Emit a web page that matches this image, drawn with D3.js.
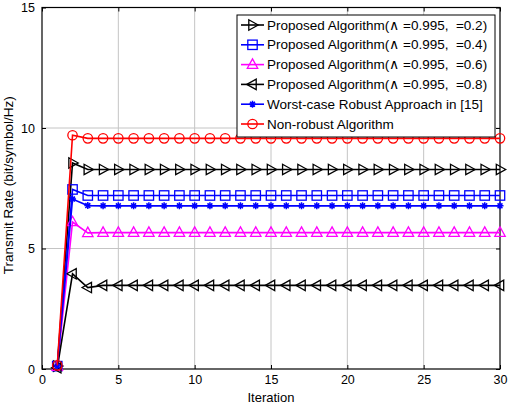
<!DOCTYPE html>
<html>
<head>
<meta charset="utf-8">
<script src="https://d3js.org/d3.v7.min.js"></script>
<style>
  body { margin: 0; background: #fff; }
  text { font-family: "Liberation Sans", Arial, sans-serif; white-space: pre; }
</style>
</head>
<body>
<script>
const iterations = d3.range(1, 31)
const seriesNames = [
  'Proposed Algorithm(\u2227 =0.995,  =0.2)',
  'Proposed Algorithm(\u2227 =0.995,  =0.4)',
  'Proposed Algorithm(\u2227 =0.995,  =0.6)',
  'Proposed Algorithm(\u2227 =0.995,  =0.8)',
  'Worst-case Robust Approach in [15]',
  'Non-robust Algorithm'
]
const rate02 = [0.12, 8.55, 8.28].concat(Array(27).fill(8.28))
const rate04 = [0.12, 7.45, 7.2].concat(Array(27).fill(7.2))
const rate06 = [0.1, 6.1, 5.65].concat(Array(27).fill(5.66))
const rate08 = [0.05, 3.95, 3.38].concat(Array(27).fill(3.47))
const rateWorst = [0.12, 7.05, 6.78].concat(Array(27).fill(6.77))
const rateNonRobust = [0.15, 9.7, 9.57].concat(Array(27).fill(9.57))
const xTicks = [0, 5, 10, 15, 20, 25, 30]
const yTicks = [0, 5, 10, 15]

const series = [
  { name: seriesNames[0], values: rate02, color: '#000000', marker: 'triRight' },
  { name: seriesNames[1], values: rate04, color: '#0000ff', marker: 'square' },
  { name: seriesNames[2], values: rate06, color: '#ff00ff', marker: 'triUp' },
  { name: seriesNames[3], values: rate08, color: '#000000', marker: 'triLeft' },
  { name: seriesNames[4], values: rateWorst, color: '#0000ff', marker: 'star' },
  { name: seriesNames[5], values: rateNonRobust, color: '#ff0000', marker: 'circle' }
]

const w = 510, h = 410
const pLeft = 42, pRight = 500, pTop = 7.5, pBottom = 369

const x = d3.scaleLinear().domain([0, 30]).range([pLeft, pRight])
const y = d3.scaleLinear().domain([0, 15]).range([pBottom, pTop])

const svg = d3.select('body').append('svg').attr('width', w).attr('height', h)

// grid
svg.append('g').selectAll('line').data(xTicks.slice(1, -1)).enter().append('line')
  .attr('x1', d => x(d)).attr('x2', d => x(d)).attr('y1', pTop).attr('y2', pBottom)
  .attr('stroke', '#c4c4c4').attr('stroke-width', 1)
svg.append('g').selectAll('line').data(yTicks.slice(1, -1)).enter().append('line')
  .attr('y1', d => y(d)).attr('y2', d => y(d)).attr('x1', pLeft).attr('x2', pRight)
  .attr('stroke', '#c4c4c4').attr('stroke-width', 1)

// axes
const xAxis = d3.axisBottom(x).tickValues(xTicks).tickSize(-4).tickPadding(6)
const yAxis = d3.axisLeft(y).tickValues(yTicks).tickSize(-4).tickPadding(7)
svg.append('g').attr('transform', 'translate(0,' + pBottom + ')').call(xAxis)
svg.append('g').attr('transform', 'translate(' + pLeft + ',0)').call(yAxis)
svg.append('g').attr('transform', 'translate(0,' + pTop + ')')
  .call(d3.axisTop(x).tickValues(xTicks).tickSize(-4).tickFormat(''))
svg.append('g').attr('transform', 'translate(' + pRight + ',0)')
  .call(d3.axisRight(y).tickValues(yTicks).tickSize(-4).tickFormat(''))
svg.selectAll('.domain').remove()
svg.selectAll('.tick line').attr('stroke', '#000')
svg.selectAll('.tick text').attr('font-size', 12.5).attr('fill', '#000')
  .style('font-family', '"Liberation Sans", Arial, sans-serif')

svg.append('rect').attr('x', pLeft).attr('y', pTop)
  .attr('width', pRight - pLeft).attr('height', pBottom - pTop)
  .attr('fill', 'none').attr('stroke', '#000').attr('stroke-width', 1.2)

svg.append('text').attr('x', (pLeft + pRight) / 2).attr('y', 402)
  .attr('text-anchor', 'middle').attr('font-size', 13).text('Iteration')
svg.append('text').attr('transform', 'translate(13,' + ((pTop + pBottom) / 2 - 3) + ') rotate(-90)')
  .attr('text-anchor', 'middle').attr('font-size', 13.5).text('Transmit Rate (bit/symbol/Hz)')

function drawMarker(g, type, color) {
  const s = 4.7
  if (type === 'circle') {
    g.append('circle').attr('r', s).attr('fill', 'none').attr('stroke', color).attr('stroke-width', 1.3)
  } else if (type === 'square') {
    g.append('rect').attr('x', -s).attr('y', -s).attr('width', 2 * s).attr('height', 2 * s)
      .attr('fill', 'none').attr('stroke', color).attr('stroke-width', 1.3)
  } else if (type === 'star') {
    const r = 3.5
    g.append('path').attr('d', 'M' + -r + ',0H' + r + 'M0,' + -r + 'V' + r +
      'M' + -r * 0.7 + ',' + -r * 0.7 + 'L' + r * 0.7 + ',' + r * 0.7 +
      'M' + -r * 0.7 + ',' + r * 0.7 + 'L' + r * 0.7 + ',' + -r * 0.7)
      .attr('stroke', color).attr('stroke-width', 1.5)
  } else {
    let pts
    if (type === 'triUp') pts = [[0, -s - 1], [s + 0.5, s - 1], [-s - 0.5, s - 1]]
    if (type === 'triRight') pts = [[s + 1, 0], [-s + 1, -s - 0.5], [-s + 1, s + 0.5]]
    if (type === 'triLeft') pts = [[-s - 1, 0], [s - 1, -s - 0.5], [s - 1, s + 0.5]]
    g.append('path').attr('d', 'M' + pts.join('L') + 'Z')
      .attr('fill', 'none').attr('stroke', color).attr('stroke-width', 1.3)
  }
}

const line = d3.line().x((d, i) => x(iterations[i])).y(d => y(d))

series.forEach(s => {
  const g = svg.append('g')
  g.append('path').datum(s.values).attr('d', line)
    .attr('fill', 'none').attr('stroke', s.color).attr('stroke-width', 1.6)
  s.values.forEach((v, i) => {
    const m = g.append('g').attr('transform', 'translate(' + x(iterations[i]) + ',' + y(v) + ')')
    drawMarker(m, s.marker, s.color)
  })
})

// legend
const lg = svg.append('g')
lg.append('rect').attr('x', 237).attr('y', 15).attr('width', 258).attr('height', 122)
  .attr('fill', '#fff').attr('stroke', '#000').attr('stroke-width', 1)
series.forEach((s, i) => {
  const yy = 25 + i * 19.8
  lg.append('line').attr('x1', 241).attr('x2', 264).attr('y1', yy).attr('y2', yy)
    .attr('stroke', s.color).attr('stroke-width', 1.6)
  const m = lg.append('g').attr('transform', 'translate(252.5,' + yy + ')')
  drawMarker(m, s.marker, s.color)
  lg.append('text').attr('x', 267).attr('y', yy + 4.5).attr('font-size', 13.5).text(s.name)
})
</script>
</body>
</html>
